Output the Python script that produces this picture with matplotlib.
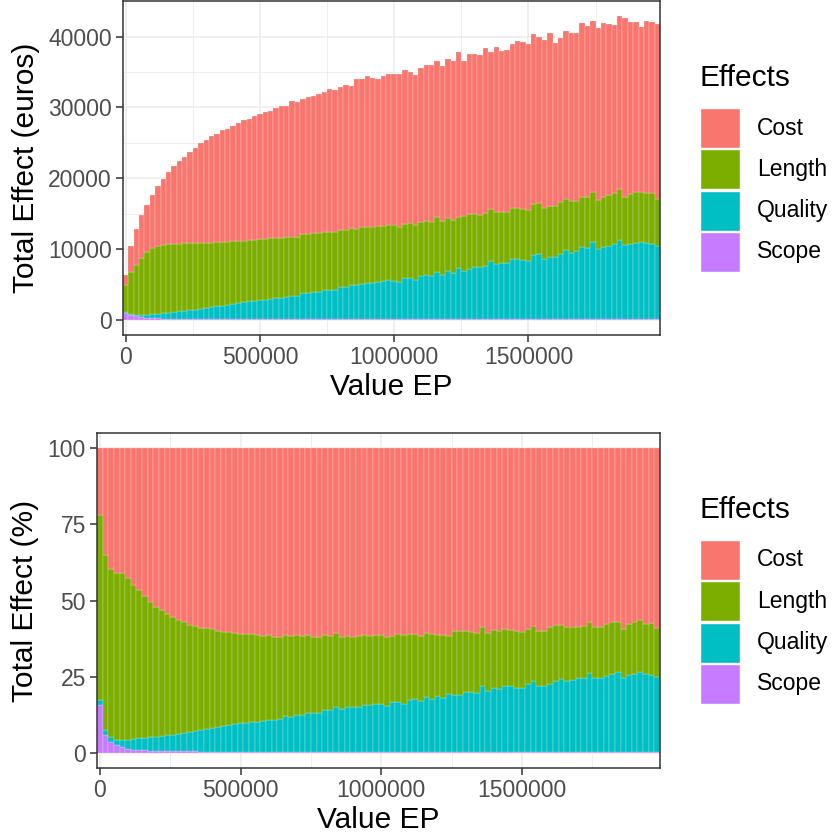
#!/usr/bin/env python3
"""Stacked effect bars against EP value, absolute and relative."""

import numpy as np
import matplotlib
matplotlib.use("Agg")
import matplotlib.pyplot as plt
from matplotlib.patches import Rectangle


value_ep = np.arange(0, 2_000_000, 20_000)

cost = [
    1400, 3690, 5100, 6040, 6690, 7540, 8470, 9310, 10110, 10990,
    11700, 12250, 12950, 13470, 14090, 14500, 15020, 15340, 15810, 15910,
    16280, 16650, 17020, 17120, 17490, 17680, 17970, 18060, 18410, 18650,
    18530, 19180, 19060, 19180, 19340, 19470, 19660, 19750, 20140, 20150,
    20210, 20420, 20030, 21060, 20910, 21310, 21050, 20870, 21170, 21330,
    21340, 21520, 21710, 21430, 21240, 21710, 21980, 22270, 22170, 21940,
    22590, 22460, 23350, 21940, 22550, 22600, 22600, 23240, 22170, 23400,
    22640, 22930, 23150, 23520, 23580, 23450, 23960, 23340, 23710, 24380,
    22970, 23160, 23720, 23720, 23720, 24610, 24230, 24140, 24230, 24560,
    24100, 23720, 24420, 25310, 24230, 24000, 23390, 24330, 24180, 24660,
]
length = [
    3860, 6020, 7120, 8060, 8910, 9340, 9580, 9680, 9690, 9650,
    9560, 9530, 9450, 9400, 9290, 9220, 9120, 9050, 8980, 8900,
    8830, 8760, 8690, 8630, 8600, 8560, 8560, 8520, 8490, 8400,
    8420, 8370, 8350, 8330, 8360, 8280, 8300, 8220, 8160, 8110,
    8040, 8070, 7990, 7990, 7950, 7930, 7930, 7810, 7790, 7860,
    7860, 7770, 7670, 7760, 7760, 7670, 7630, 7620, 7720, 7580,
    7440, 7480, 7200, 7680, 7810, 7530, 7390, 7540, 7400, 7380,
    7260, 7160, 7260, 7160, 7300, 7150, 7250, 7200, 7160, 7250,
    7250, 7300, 7250, 7240, 7010, 7060, 7160, 7060, 6920, 6970,
    7200, 7110, 7150, 6780, 7070, 7200, 7060, 7020, 7160, 6690,
]
quality = [
    90, 160, 200, 280, 380, 520, 650, 760, 860, 960,
    1060, 1150, 1235, 1330, 1440, 1565, 1665, 1790, 1910, 2030,
    2155, 2275, 2395, 2500, 2620, 2710, 2750, 2890, 2940, 3030,
    3170, 3270, 3270, 3640, 3640, 3830, 3900, 4070, 4160, 4160,
    4530, 4530, 4860, 4810, 5000, 5050, 5070, 5280, 5330, 5470,
    5420, 5280, 5750, 5750, 5470, 6030, 6260, 6080, 6640, 6260,
    6780, 6500, 7200, 6820, 7060, 7340, 7340, 7480, 8180, 7720,
    7940, 7940, 8460, 8560, 8320, 8230, 9070, 9260, 8560, 8790,
    8790, 9260, 9770, 9400, 9630, 10150, 10050, 10950, 9960, 10240,
    10380, 10660, 11230, 10430, 10610, 10710, 10850, 10800, 10660, 10330,
]
scope = [
    1000, 620, 470, 360, 300, 240, 200, 180, 160, 150,
    140, 130, 125, 120, 120, 115, 115, 110, 110, 110,
    105, 105, 105, 100, 100, 100, 100, 100, 100, 100,
    100, 100, 100, 100, 100, 100, 100, 100, 100, 100,
    100, 100, 100, 100, 100, 100, 100, 100, 100, 100,
    100, 100, 100, 100, 100, 100, 100, 100, 100, 100,
    100, 100, 100, 100, 100, 100, 100, 100, 100, 100,
    100, 100, 100, 100, 100, 100, 100, 100, 100, 100,
    100, 100, 100, 100, 100, 100, 100, 100, 100, 100,
    100, 100, 100, 100, 100, 100, 100, 100, 100, 100,
]

effect_names = ["Cost", "Length", "Quality", "Scope"]
effect_colors = ["#F8766D", "#7CAE00", "#00BFC4", "#C77CFF"]

x_ticks = [0, 500000, 1000000, 1500000]
euro_ticks = [0, 10000, 20000, 30000, 40000]
pct_ticks = [0, 25, 50, 75, 100]

FONT = "Liberation Sans"
W, H = 833, 838
BAR_W = 20000


def style_axis(ax):
    ax.set_facecolor("white")
    ax.set_axisbelow(True)
    for side in ax.spines.values():
        side.set_color("#333333")
        side.set_linewidth(1.1)
    ax.tick_params(axis="both", length=5, width=1.1, color="#333333",
                   labelcolor="#4D4D4D", labelsize=16.5, pad=3)
    for lab in ax.get_xticklabels() + ax.get_yticklabels():
        lab.set_fontfamily(FONT)
    ax.grid(True, which="major", color="#EBEBEB", linewidth=1.1)
    ax.grid(True, which="minor", color="#EBEBEB", linewidth=0.55)
    ax.tick_params(which="minor", length=0)


def stacked(ax, layers):
    bottom = np.zeros(len(value_ep))
    # ggplot stacks the last factor level at the bottom
    for name, color in reversed(list(zip(effect_names, effect_colors))):
        vals = np.asarray(layers[name], dtype=float)
        ax.bar(value_ep, vals, width=BAR_W, bottom=bottom, color=color,
               edgecolor=(1, 1, 1, 0.45), linewidth=0.35)
        bottom += vals


def legend(fig, top_px):
    fig.text(700 / W, 1 - top_px / H, "Effects", fontsize=21.5, family=FONT,
             ha="left", va="center")
    key = 40
    for k, (name, color) in enumerate(zip(effect_names, effect_colors)):
        y0 = top_px + 30 + k * (key + 1.3)
        fig.add_artist(Rectangle((700 / W, 1 - (y0 + key) / H), key / W, key / H,
                                 transform=fig.transFigure, facecolor=color,
                                 edgecolor="white", linewidth=1.0))
        fig.text(757 / W, 1 - (y0 + key / 2) / H, name, fontsize=16.5,
                 family=FONT, ha="left", va="center")


fig = plt.figure(figsize=(W / 100, H / 100), dpi=100)
fig.patch.set_facecolor("white")

raw = {"Cost": cost, "Length": length, "Quality": quality, "Scope": scope}
total = np.sum([np.asarray(v, dtype=float) for v in raw.values()], axis=0)
share = {k: np.asarray(v, dtype=float) / total * 100 for k, v in raw.items()}

# absolute effects
ax1 = fig.add_axes([123 / W, 1 - 335 / H, 537 / W, 334 / H])
stacked(ax1, raw)
ymax = total.max()
ax1.set_ylim(-0.05 * ymax, 1.05 * ymax)
ax1.set_xlim(-BAR_W / 2, value_ep[-1] + BAR_W / 2)
ax1.set_xticks(x_ticks)
ax1.set_xticks([250000, 750000, 1250000, 1750000], minor=True)
ax1.set_yticks(euro_ticks)
ax1.set_yticks([5000, 15000, 25000, 35000], minor=True)
ax1.set_xticklabels([str(t) for t in x_ticks])
ax1.set_yticklabels([str(t) for t in euro_ticks])
style_axis(ax1)
ax1.set_xlabel("Value EP", fontsize=21.5, family=FONT, labelpad=3)
ax1.set_ylabel("Total Effect (euros)", fontsize=21.5, family=FONT, labelpad=6)

# relative effects
ax2 = fig.add_axes([97 / W, 1 - 768 / H, 563 / W, 335 / H])
stacked(ax2, share)
ax2.set_ylim(-5, 105)
ax2.set_xlim(-BAR_W / 2, value_ep[-1] + BAR_W / 2)
ax2.set_xticks(x_ticks)
ax2.set_xticks([250000, 750000, 1250000, 1750000], minor=True)
ax2.set_yticks(pct_ticks)
ax2.set_yticks([12.5, 37.5, 62.5, 87.5], minor=True)
ax2.set_xticklabels([str(t) for t in x_ticks])
ax2.set_yticklabels([str(t) for t in pct_ticks])
style_axis(ax2)
ax2.set_xlabel("Value EP", fontsize=21.5, family=FONT, labelpad=3)
ax2.set_ylabel("Total Effect (%)", fontsize=21.5, family=FONT, labelpad=6)

legend(fig, 78)
legend(fig, 510)

fig.savefig("out.png", dpi=100)
